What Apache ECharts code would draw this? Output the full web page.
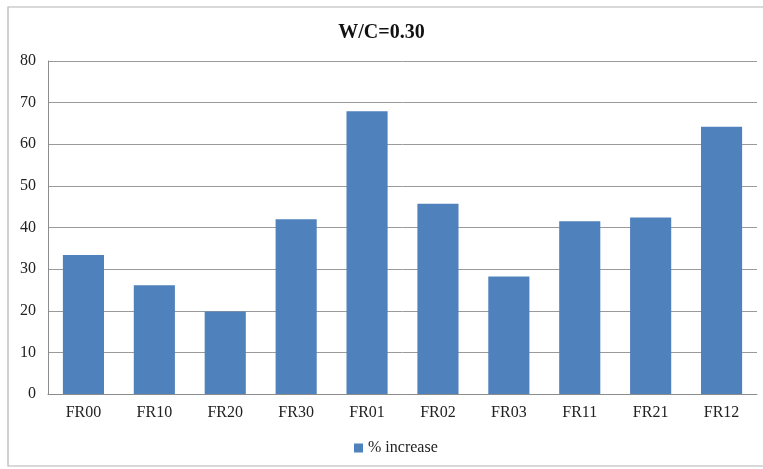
<!DOCTYPE html>
<html>
<head>
<meta charset="utf-8">
<style>
  html, body { margin: 0; padding: 0; background: #fff; }
  #chart { width: 763px; height: 469px; }
</style>
<script src="https://cdn.jsdelivr.net/npm/echarts@6/dist/echarts.min.js"></script>
</head>
<body>
<div id="chart"></div>
<script>
// Mix designs along the x axis
const categories = ['FR00', 'FR10', 'FR20', 'FR30', 'FR01', 'FR02', 'FR03', 'FR11', 'FR21', 'FR12'];
// Percentage increase for each mix
const increaseValues = [33.4, 26.1, 19.8, 42.0, 67.9, 45.7, 28.2, 41.5, 42.4, 64.2];
const seriesName = '% increase';
const chartTitle = 'W/C=0.30';

const serif = '"Liberation Serif", "DejaVu Serif", serif';
const chart = echarts.init(document.getElementById('chart'), null, { renderer: 'canvas' });

chart.setOption({
  animation: false,
  backgroundColor: '#ffffff',
  graphic: [{
    type: 'rect',
    shape: { x: 8, y: 7, width: 770, height: 459 },
    style: { fill: 'none', stroke: '#b4b4b4', lineWidth: 1.2 },
    silent: true,
    z: -1
  }],
  title: {
    text: chartTitle,
    left: 'center',
    top: 18,
    textStyle: { fontFamily: serif, fontSize: 20, fontWeight: 'bold', color: '#111' }
  },
  legend: {
    bottom: 8,
    left: 349,
    itemWidth: 9,
    itemHeight: 9,
    icon: 'rect',
    itemGap: 4,
    textStyle: { fontFamily: serif, fontSize: 16, color: '#222' },
    data: [seriesName]
  },
  grid: { left: 48, right: 6, top: 61, bottom: 75, containLabel: false },
  xAxis: {
    type: 'category',
    data: categories,
    axisLine: { show: true, lineStyle: { color: '#8c8c8c', width: 1 } },
    axisTick: { show: false },
    axisLabel: { fontFamily: serif, fontSize: 16, color: '#222', margin: 11 }
  },
  yAxis: {
    type: 'value',
    min: 0,
    max: 80,
    interval: 10,
    axisLine: { show: true, lineStyle: { color: '#8c8c8c', width: 1 } },
    axisTick: { show: false },
    axisLabel: { fontFamily: serif, fontSize: 16, color: '#222', margin: 12 },
    splitLine: { show: true, lineStyle: { color: '#9a9a9a', width: 1 } }
  },
  series: [{
    name: seriesName,
    type: 'bar',
    data: increaseValues,
    barWidth: '58%',
    itemStyle: { color: '#4f81bd' }
  }]
});
</script>
</body>
</html>
